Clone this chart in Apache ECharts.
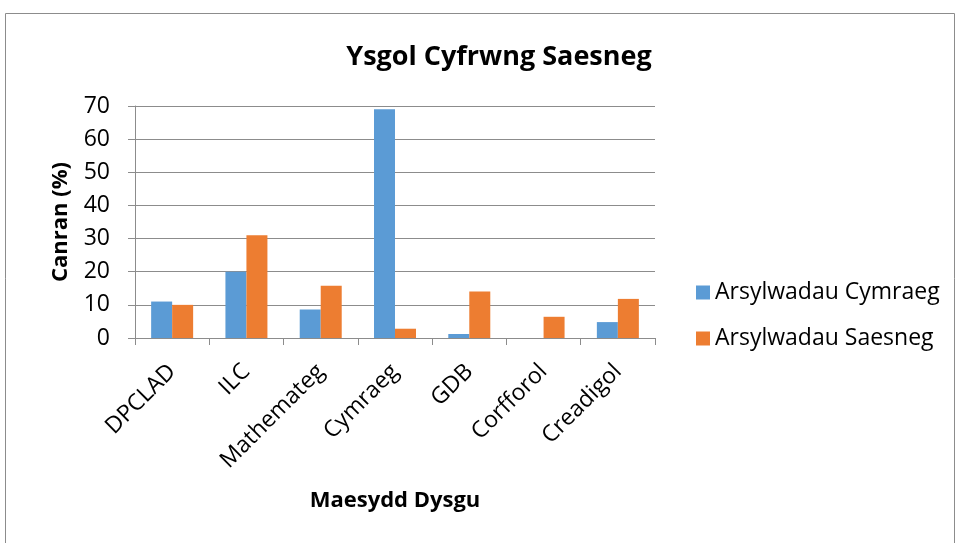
<!DOCTYPE html>
<html>
<head>
<meta charset="utf-8">
<script src="https://cdn.jsdelivr.net/npm/echarts@6/dist/echarts.min.js"></script>
<style>
  html, body { margin: 0; padding: 0; background: #fff; }
  #chart { width: 960px; height: 543px; }
</style>
</head>
<body>
<div id="chart"></div>
<script>
const categories = ['DPCLAD', 'ILC', 'Mathemateg', 'Cymraeg', 'GDB', 'Corfforol', 'Creadigol'];
const welshObs = [11, 20, 8.6, 69, 1.2, 0, 4.8];
const englishObs = [10, 31, 15.8, 2.8, 14, 6.4, 11.8];
const seriesNames = ['Arsylwadau Cymraeg', 'Arsylwadau Saesneg'];

const font = '"Open Sans", "Noto Sans", sans-serif';
const chart = echarts.init(document.getElementById('chart'));

chart.setOption({
  backgroundColor: '#fff',
  animation: false,
  textStyle: { fontFamily: font },
  graphic: [{
    type: 'rect',
    shape: { x: 5.5, y: 13.5, width: 949, height: 540 },
    style: { fill: 'none', stroke: '#8c8c8c', lineWidth: 1 }
  }],
  title: {
    text: 'Ysgol Cyfrwng Saesneg',
    left: 494, top: 39, textAlign: 'center',
    textStyle: { fontSize: 27, fontWeight: 'bold', color: '#000', fontFamily: font }
  },
  legend: {
    orient: 'vertical',
    left: 691, top: 276,
    itemWidth: 14, itemHeight: 14, itemGap: 23,
    icon: 'rect',
    textStyle: { fontSize: 23, color: '#000', fontFamily: font },
    data: seriesNames
  },
  grid: { left: 135, right: 305, top: 106, bottom: 205 },
  xAxis: {
    type: 'category',
    data: categories,
    name: 'Maesydd Dysgu',
    nameLocation: 'middle',
    nameGap: 152,
    nameTextStyle: { fontSize: 22, fontWeight: 'bold', color: '#000' },
    axisLine: { lineStyle: { color: '#8c8c8c' } },
    axisTick: { show: true, length: 7, lineStyle: { color: '#8c8c8c' } },
    axisLabel: { rotate: 45, fontSize: 23, color: '#000', margin: 30 }
  },
  yAxis: {
    type: 'value',
    min: 0, max: 70, interval: 10,
    name: 'Canran (%)',
    nameLocation: 'middle',
    nameGap: 63,
    nameTextStyle: { fontSize: 22, fontWeight: 'bold', color: '#000' },
    axisLine: { show: true, lineStyle: { color: '#8c8c8c' } },
    axisTick: { show: true, length: 7, lineStyle: { color: '#8c8c8c' } },
    axisLabel: { fontSize: 23, color: '#000', margin: 25 },
    splitLine: { lineStyle: { color: '#8c8c8c', width: 1 } }
  },
  series: [
    {
      name: seriesNames[0], type: 'bar', data: welshObs,
      barWidth: 21, barGap: '0%',
      itemStyle: { color: '#5b9bd5' }
    },
    {
      name: seriesNames[1], type: 'bar', data: englishObs,
      barWidth: 21, barGap: '0%',
      itemStyle: { color: '#ed7d31' }
    }
  ]
});
</script>
</body>
</html>
